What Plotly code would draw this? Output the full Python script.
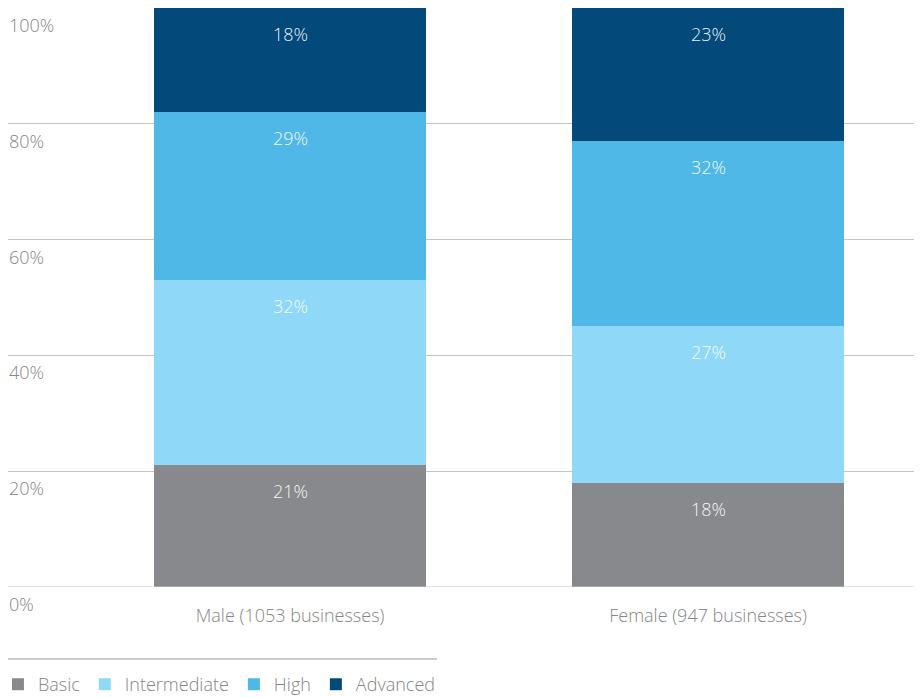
import plotly.graph_objects as go

categories = ["Male (1053 businesses)", "Female (947 businesses)"]
series_names = ["Basic", "Intermediate", "High", "Advanced"]
basic = [21, 18]
intermediate = [32, 27]
high = [29, 32]
advanced = [18, 23]
y_ticks = [0, 20, 40, 60, 80, 100]
y_tick_labels = ["0%", "20%", "40%", "60%", "80%", "100%"]

colors = ["#88898d", "#8fd8f7", "#50b8e7", "#034a7b"]
series_values = [basic, intermediate, high, advanced]

FONT = "Open Sans"
GREY = "#868686"
FS = 18

fig = go.Figure()
for name, vals, col in zip(series_names, series_values, colors):
    fig.add_trace(go.Bar(
        name=name, x=categories, y=vals, marker=dict(color=col, line=dict(width=0)),
        width=0.651,
    ))

annotations = []
for ci, cat in enumerate(categories):
    cum = 0
    for vals in series_values:
        cum += vals[ci]
        annotations.append(dict(
            x=cat, y=cum, xref="x", yref="y", text=f"{vals[ci]}%",
            showarrow=False, yshift=-26, yanchor="middle",
            font=dict(family=FONT, size=FS, color="rgba(255,255,255,0.95)", weight=300),
        ))
for v, t in zip(y_ticks, y_tick_labels):
    annotations.append(dict(
        x=0, xref="paper", y=v, yref="y", text=t, showarrow=False,
        xanchor="left", yanchor="middle", yshift=-17, xshift=-1,
        font=dict(family=FONT, size=FS, color=GREY, weight=300),
    ))

fig.update_layout(
    width=914, height=689,
    margin=dict(l=0, r=0, t=0, b=110, autoexpand=False),
    barmode="stack",
    plot_bgcolor="white", paper_bgcolor="white",
    font=dict(family=FONT, size=FS, color=GREY),
    xaxis=dict(range=[-0.675, 1.512], showgrid=False, zeroline=False, showline=False,
               ticks="", tickfont=dict(family=FONT, size=FS, color=GREY, weight=300),
               ticklabelstandoff=16, automargin=False),
    yaxis=dict(range=[0, 100], tickvals=y_ticks, showticklabels=False,
               showgrid=True, gridcolor="#c4c4c4", gridwidth=1, zeroline=False,
               showline=False, ticks="", automargin=False),
    bargap=0,
    legend=dict(orientation="h", x=-0.011, xanchor="left", y=-0.1365, yanchor="top",
                bgcolor="rgba(0,0,0,0)",
                font=dict(family=FONT, size=FS, color=GREY, weight=300),
                traceorder="normal", itemwidth=30),
    annotations=annotations,
    shapes=[
        dict(type="line", xref="paper", yref="y", x0=0, x1=1, y0=0, y1=0,
             line=dict(color="#c4c4c4", width=1), layer="above"),
        dict(type="line", xref="paper", yref="paper", x0=0, x1=429/914,
             y0=-72/579, y1=-72/579, line=dict(color="#999999", width=1.2)),
    ],
    showlegend=True,
)

fig.write_html("out.html")
